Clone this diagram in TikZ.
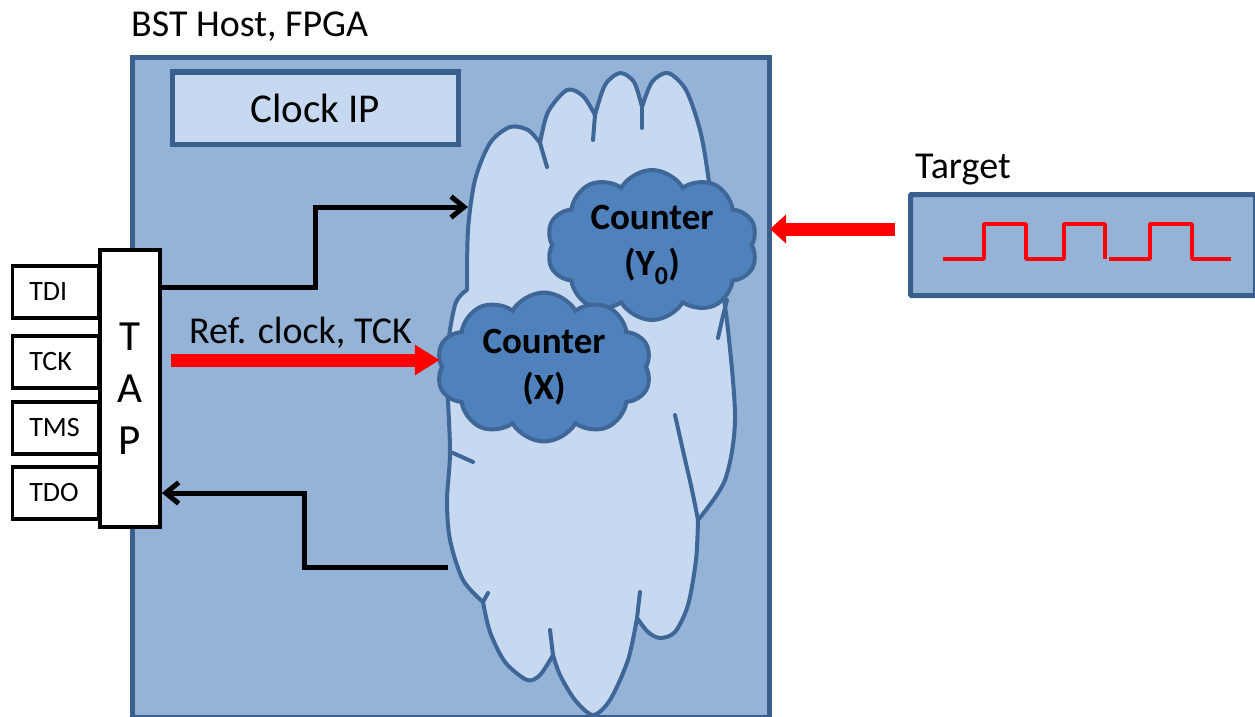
\documentclass[tikz,border=0pt]{standalone}
\usepackage{fontspec}
\setmainfont{Carlito}
\usetikzlibrary{shapes.symbols,arrows.meta}

\definecolor{hostfill}{HTML}{95B3D7}
\definecolor{hostline}{HTML}{3B5F8C}
\definecolor{lightfill}{HTML}{C6D9F1}
\definecolor{cloudline}{HTML}{3E6797}
\definecolor{counterfill}{HTML}{4F81BD}
\definecolor{sigred}{HTML}{FF0000}
\definecolor{sigedge}{HTML}{D00000}

\tikzset{
  txt/.style={font=\fontsize{38}{46}\selectfont},
  pinbox/.style={draw=black, line width=3.5pt, fill=white, minimum height=52pt,
    text width=52pt, align=left, inner xsep=17pt, inner ysep=0pt,
    font=\fontsize{28}{32}\selectfont},
  tapbox/.style={draw=black, line width=3.5pt, fill=white, minimum width=60pt,
    minimum height=277pt, align=center, font=\fontsize{43}{52}\selectfont},
  counter/.style={cloud, cloud puffs=10, cloud puff arc=120, cloud ignores aspect,
    draw=cloudline, line width=4pt, fill=counterfill, align=center,
    font=\bfseries\fontsize{37}{46}\selectfont, inner sep=0pt},
  wire/.style={draw=black, line width=5pt, line join=miter,
    -{Straight Barb[length=13pt,width=21pt,line width=5pt]}},
  fatarrow/.style={draw=sigred, line width=13pt},
}

\begin{document}
\begin{tikzpicture}[x=1pt,y=-1pt]
\useasboundingbox (0,0) rectangle (1255,717);

% host FPGA
\node[txt, anchor=base west, inner sep=0pt] (hostlabel) at (131,37) {BST Host, FPGA};
\node[draw=hostline, line width=5pt, fill=hostfill, minimum width=637pt,
      minimum height=660pt, inner sep=0pt, anchor=north west] (host) at (130,55) {};

% clock IP block
\node[draw=hostline, line width=5pt, fill=lightfill, minimum width=286pt,
      minimum height=72pt, inner sep=0pt, font=\fontsize{41}{48}\selectfont]
      (clockip) at (315,108) {Clock IP};

% large cloud of logic
\path[fill=lightfill, draw=cloudline, line width=4pt, line join=round]
  plot[smooth] coordinates {(540,143) (548,112) (567,90) (583,96) (595,115)}
  -- plot[smooth] coordinates {(595,115) (605,85) (620,73) (634,82) (642,107)}
  -- plot[smooth] coordinates {(642,107) (652,82) (668,73) (686,90) (700,130) (708,175)
        (717,250) (728,330) (735,420) (725,480) (698,520)}
  -- plot[smooth] coordinates {(698,520) (696,560) (688,605) (675,632) (660,638) (648,632) (637,618)}
  -- plot[smooth] coordinates {(637,618) (628,660) (610,700) (593,715) (575,700) (560,675) (553,655)}
  -- plot[smooth] coordinates {(553,655) (540,675) (527,680) (505,662) (490,632) (483,602)}
  -- plot[smooth] coordinates {(483,602) (463,580) (450,540) (447,500) (450,450) (447,360) (455,305) (467,290)}
  -- plot[smooth] coordinates {(467,290) (468,230) (475,180) (490,143) (510,127) (528,130) (540,143)}
  -- cycle;
\begin{scope}[draw=cloudline, line width=4pt, line cap=round]
  \draw (540,143) -- (547,167);
  \draw (595,115) -- (593,140);
  \draw (642,107) -- (642,128);
  \draw plot[smooth] coordinates {(727,300) (722,320) (718,338)};
  \draw plot[smooth] coordinates {(675,415) (684,455) (692,490) (698,520)};
  \draw (637,618) -- (640,592);
  \draw (553,655) -- (550,630);
  \draw (483,602) -- (488,593);
  \draw (453,453) -- (473,462);
\end{scope}

% counters
\node[counter, minimum width=211pt, minimum height=150pt] (cy) at (652,245)
  {Counter\\(Y\textsubscript{0})};
\node[counter, minimum width=215pt, minimum height=149pt] (cx) at (544,367)
  {Counter\\(X)};

% JTAG port
\node[tapbox] (tap) at (130,388.5) {T\\A\\P};
\node[pinbox, anchor=north east] (tdi) at (100,264) {TDI};
\node[pinbox, anchor=north east] (tck) at (100,334) {TCK};
\node[pinbox, anchor=north east] (tms) at (100,400) {TMS};
\node[pinbox, anchor=north east] (tdo) at (100,465) {TDO};

% control and readback wires
\coordinate (cin) at (468,207);
\coordinate (cout) at (448,567);
\draw[wire] ([yshift=101.5pt]tap.east) -| (315,207) -- (cin);
\draw[wire] (cout) -| (304,493) -- ([yshift=-104.5pt]tap.east);

% reference clock
\coordinate (refstart) at (171,360);
\node[txt, anchor=base west, inner sep=0pt] (reflabel) at (189,343) {Ref. clock, TCK};
\draw[fatarrow, -{Triangle[length=25pt,width=29pt]}] (refstart) -- (cx.west |- refstart);

% target
\node[txt, anchor=base west, inner sep=0pt] (targetlabel) at (915,178) {Target};
\node[draw=hostline, line width=5pt, fill=hostfill, rounded corners=1pt,
      minimum width=345pt, minimum height=101pt, inner sep=0pt, anchor=north west]
      (target) at (908,192) {};
\coordinate (tstart) at (895,229);
\coordinate (tend) at (770,229);
\draw[fatarrow, -{Triangle[length=16pt,width=28pt]}] (tstart) -- (tend);

% target signal waveform
\begin{scope}[draw=sigred, line width=3.5pt, line join=round]
  \draw (943,259) -- (984,259) -- (984,224) -- (1026,224) -- (1026,259) -- (1064,259)
        -- (1064,224) -- (1105,224) -- (1105,259);
  \draw (1109,259) -- (1150,259) -- (1150,224) -- (1192,224) -- (1192,259) -- (1231,259);
\end{scope}
\end{tikzpicture}
\end{document}
